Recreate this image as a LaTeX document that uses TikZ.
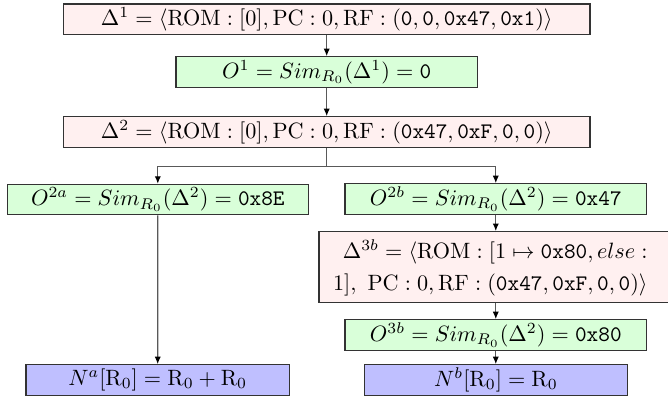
\documentclass[tikz,border=0pt]{standalone}
\usetikzlibrary{arrows.meta}
\newcommand\pxu{0.451pt}
\definecolor{pinkfill}{RGB}{255,240,240}
\definecolor{greenfill}{RGB}{217,255,217}
\definecolor{bluefill}{RGB}{191,191,255}
\begin{document}
\begin{tikzpicture}[x=0.451pt,y=-0.451pt,
  box/.style={draw=black!80, line width=0.55pt, inner sep=0pt, minimum height=30.4*\pxu},
  pinkbox/.style={box, fill=pinkfill},
  greenbox/.style={box, fill=greenfill},
  bluebox/.style={box, fill=bluefill},
  arr/.style={draw=black!65, line width=0.55pt, -{Latex[length=3.4pt,width=2.8pt,color=black]}}]
\useasboundingbox (0,0) rectangle (668,401);
\node[pinkbox, minimum width=526.7*\pxu] (d1) at (326.7,19.2)
  {$\Delta^1 = \langle \mathrm{ROM}:[0], \mathrm{PC}:0, \mathrm{RF}:(\mathtt{0},\mathtt{0},\mathtt{0x47},\mathtt{0x1})\rangle$};
\node[greenbox, minimum width=301.3*\pxu] (o1) at (326.7,72)
  {$O^1 = Sim_{R_0}(\Delta^1) = \mathtt{0}$};
\node[pinkbox, minimum width=526.7*\pxu] (d2) at (326.7,132)
  {$\Delta^2 = \langle \mathrm{ROM}:[0], \mathrm{PC}:0, \mathrm{RF}:(\mathtt{0x47},\mathtt{0xF},\mathtt{0},\mathtt{0})\rangle$};
\node[greenbox, minimum width=301*\pxu] (o2a) at (157.8,199.6)
  {$O^{2a} = Sim_{R_0}(\Delta^2) = \mathtt{0x8E}$};
\node[greenbox, minimum width=301.7*\pxu] (o2b) at (495.8,199)
  {$O^{2b} = Sim_{R_0}(\Delta^2) = \mathtt{0x47}$};
\node[pinkbox, minimum width=355.4*\pxu, minimum height=71*\pxu] (d3b) at (496.7,267.2) {};
\node[align=right, anchor=east, inner sep=0pt] (d3bt) at (648,268)
  {$\Delta^{3b} = \langle \mathrm{ROM}:[1\mapsto \mathtt{0x80}, else:$\\[2.4pt]
   $1],\ \mathrm{PC}:0, \mathrm{RF}:(\mathtt{0x47},\mathtt{0xF},\mathtt{0},\mathtt{0})\rangle$};
\node[greenbox, minimum width=301.7*\pxu] (o3b) at (495.8,335)
  {$O^{3b} = Sim_{R_0}(\Delta^2) = \mathtt{0x80}$};
\node[bluebox, minimum width=263.3*\pxu] (na) at (157.7,380)
  {$N^a[\mathrm{R}_0] = \mathrm{R}_0 + \mathrm{R}_0$};
\node[bluebox, minimum width=263.3*\pxu] (nb) at (496,380)
  {$N^b[\mathrm{R}_0] = \mathrm{R}_0$};
\draw[arr] (d1) -- (o1);
\draw[arr] (o1) -- (d2);
\draw[arr] (d2.south) -- ++(0,18.7) -| (o2a.north);
\draw[arr] (d2.south) -- ++(0,18.7) -| (o2b.north);
\draw[arr] (o2a) -- (na);
\draw[arr] (o2b) -- (o2b |- d3b.north);
\draw[arr] (d3b.south -| o3b) -- (o3b);
\draw[arr] (o3b) -- (o3b |- nb.north);
\end{tikzpicture}
\end{document}
